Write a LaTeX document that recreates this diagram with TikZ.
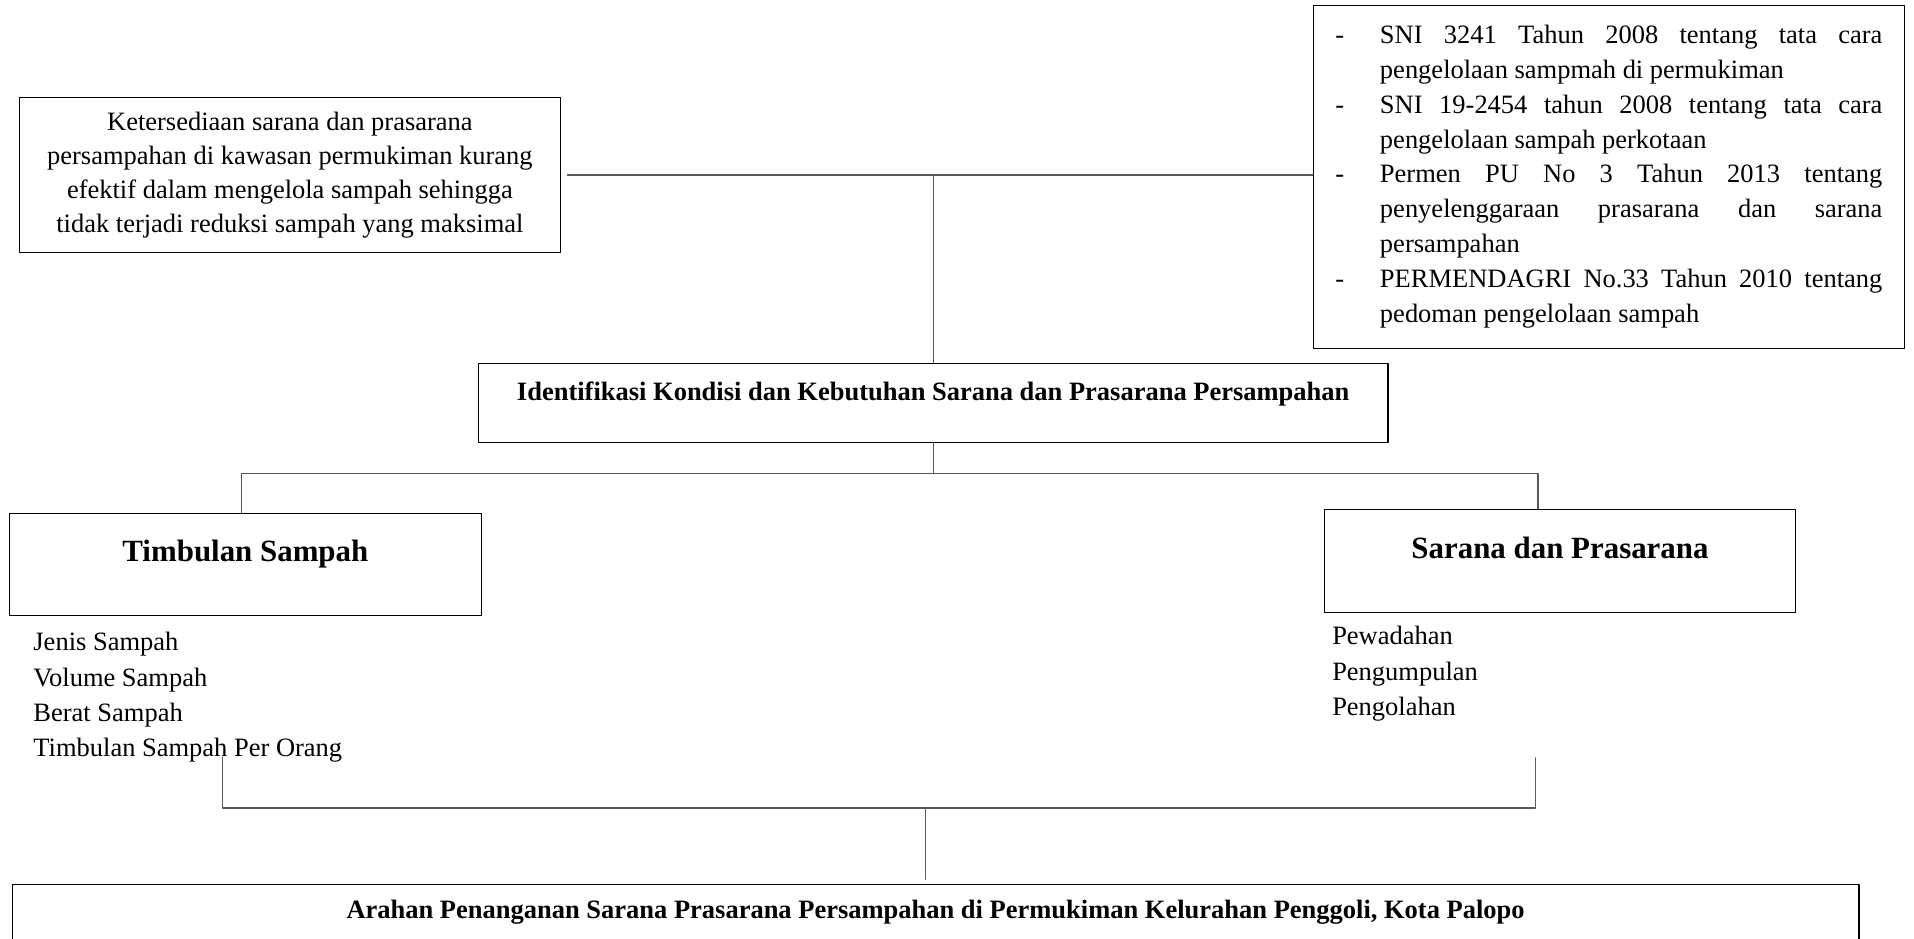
\documentclass[tikz,border=0pt]{standalone}
\usepackage{fontspec}
\setmainfont{Liberation Serif}
\newcommand{\butir}[1]{\par\noindent\hangindent=20.2pt\hangafter=1\makebox[20.2pt][l]{-}#1\par}
\begin{document}
\begin{tikzpicture}[x=0.453pt, y=-0.453pt, line join=round, line cap=round,
	teks/.style={font=\fontsize{12pt}{16pt}\selectfont},
	tebal/.style={font=\fontsize{12pt}{16pt}\selectfont\bfseries},
	judul/.style={font=\fontsize{14pt}{17pt}\selectfont\bfseries},
	kotak/.style={draw=black, line width=0.5pt, inner sep=0pt},
	garis/.style={draw=black!65, line width=0.6pt}]
	% Batas gambar
	\useasboundingbox (0,0) rectangle (1914,939);
	\clip (0,0) rectangle (1914,939);
	
	% Kotak masalah dan kotak acuan
	\node[kotak, minimum width=245pt, minimum height=70.2pt, align=center, font=\fontsize{12pt}{15.5pt}\selectfont] (ket) at (289.9,175) {Ketersediaan sarana dan prasarana\\persampahan di kawasan permukiman kurang\\efektif dalam mengelola sampah sehingga\\tidak terjadi reduksi sampah yang maksimal};
	\node[kotak, inner xsep=10pt, text width=247.8pt, align=justify, minimum height=155pt, font=\fontsize{12pt}{15.8pt}\selectfont] (sni) at (1608.9,177) {\tolerance=10000\hbadness=10000\hyphenpenalty=10000\exhyphenpenalty=10000
		\butir{SNI 3241 Tahun 2008 tentang tata cara pengelolaan sampmah di permukiman}
		\butir{SNI 19-2454 tahun 2008 tentang tata cara pengelolaan sampah perkotaan}
		\butir{Permen PU No 3 Tahun 2013 tentang\linebreak penyelenggaraan prasarana dan sarana\linebreak persampahan}
		\butir{PERMENDAGRI No.33 Tahun 2010 tentang pedoman pengelolaan sampah}
		\kern7.8pt\hrule height0pt width0pt};
	
	% Kotak identifikasi
	\node[kotak, tebal, anchor=north, minimum width=412pt, text height=16.8pt, text depth=19.25pt] (idk) at (933.2,362.5) {Identifikasi Kondisi dan Kebutuhan Sarana dan Prasarana Persampahan};
	
	% Dua aspek dan rinciannya
	\node[kotak, judul, anchor=north, minimum width=213.5pt, text height=21.7pt, text depth=24.8pt] (timb) at (245.4,512.7) {Timbulan Sampah};
	\node[kotak, judul, anchor=north, minimum width=213.4pt, text height=22.2pt, text depth=24.3pt] (sar) at (1560,509) {Sarana dan Prasarana};
	\node[teks, anchor=north west, inner sep=0pt, align=left] (daftimb) at (33,632) {Jenis Sampah\\Volume Sampah\\Berat Sampah\\Timbulan Sampah Per Orang};
	\node[teks, anchor=north west, inner sep=0pt, align=left] (dafsar) at (1331.8,626) {Pewadahan\\Pengumpulan\\Pengolahan};
	
	% Kotak arahan
	\node[kotak, tebal, anchor=north, minimum width=836.6pt, text height=15.5pt, text depth=20pt] (arah) at (935.6,883.8) {Arahan Penanganan Sarana Prasarana Persampahan di Permukiman Kelurahan Penggoli, Kota Palopo};
	
	% Garis penghubung
	\draw[garis, shorten <=3pt] (ket.east) -- (ket.east -| sni.west);
	\coordinate (simpul1) at (idk.north |- ket.east);
	\draw[garis] (simpul1) -- (idk.north);
	\coordinate (simpul2) at (idk.south |- 0,473.6);
	\draw[garis] (idk.south) -- (simpul2);
	\draw[garis] ([xshift=-1.7pt]timb.north) |- (simpul2) -| ([xshift=-10pt]sar.north);
	\coordinate (ujungkiri) at (222.2,757);
	\coordinate (ujungkanan) at (1535.6,758);
	\coordinate (simpul3) at (925.3,808);
	\draw[garis] (ujungkiri) |- (simpul3) -| (ujungkanan);
	\draw[garis, shorten >=2pt] (simpul3) -- (simpul3 |- arah.north);
\end{tikzpicture}
\end{document}
